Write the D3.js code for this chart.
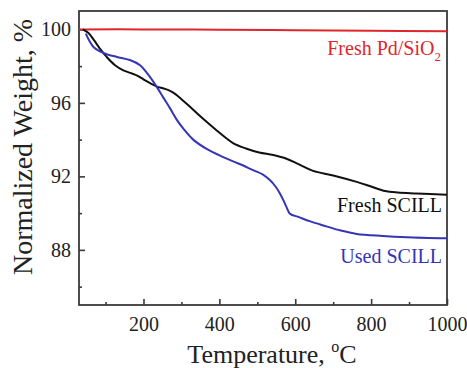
<!DOCTYPE html>
<html>
<head>
<meta charset="utf-8">
<script src="https://cdn.jsdelivr.net/npm/d3@7"></script>
<style>
  html, body { margin: 0; padding: 0; background: #fff; }
  svg text { font-family: "Liberation Serif", "Times New Roman", serif; }
</style>
</head>
<body>
<svg id="chart" width="467" height="368"></svg>
<script>
// Thermogravimetric curves: temperature (°C) vs normalized weight (%)
const pdTemp = [30, 200, 400, 600, 800, 1000];
const pdWeight = [100, 100, 99.98, 99.95, 99.92, 99.9];

const freshTemp = [40, 55, 70, 85, 103, 125, 147, 165, 182, 200, 215, 234, 255, 270, 285, 300, 322, 349, 370, 393, 415, 437, 470, 505, 542, 577, 610, 647, 700, 762, 800, 837, 870, 920, 1000];
const freshWeight = [100, 99.8, 99.4, 98.95, 98.5, 98.05, 97.77, 97.63, 97.5, 97.28, 97.1, 96.9, 96.77, 96.65, 96.46, 96.2, 95.8, 95.28, 94.9, 94.5, 94.13, 93.8, 93.52, 93.3, 93.16, 92.96, 92.65, 92.3, 92.05, 91.7, 91.45, 91.2, 91.12, 91.07, 91.0];

const usedTemp = [48, 58, 68, 85, 103, 130, 164, 191, 210, 234, 252, 270, 287, 305, 331, 370, 410, 450, 489, 515, 533, 548, 560, 570, 577, 586, 610, 640, 674, 720, 762, 830, 894, 1000];
const usedWeight = [99.77, 99.35, 99.04, 98.8, 98.65, 98.5, 98.33, 98.05, 97.6, 96.9, 96.3, 95.7, 95.1, 94.6, 94.0, 93.45, 93.05, 92.7, 92.34, 92.1, 91.8, 91.45, 91.06, 90.65, 90.33, 89.97, 89.78, 89.55, 89.33, 89.05, 88.87, 88.76, 88.69, 88.63];

const xMajorTicks = [200, 400, 600, 800, 1000];
const xMinorTicks = [100, 300, 500, 700, 900];
const yMajorTicks = [88, 92, 96, 100];
const yMinorTicks = [86, 90, 94, 98];

const seriesNames = ["Fresh Pd/SiO", "Fresh SCILL", "Used SCILL"];

const svg = d3.select("#chart");
const plotLeft = 79, plotRight = 447, plotTop = 11, plotBottom = 305;

const x = d3.scaleLinear().domain([30, 1000]).range([plotLeft, plotRight]);
const y = d3.scaleLinear().domain([85, 101]).range([plotBottom, plotTop]);

const axisColor = "#3a3a3a";

// minor ticks
svg.append("g")
  .attr("transform", `translate(0,${plotBottom})`)
  .call(d3.axisBottom(x).tickValues(xMinorTicks).tickSize(-3).tickFormat(""))
  .call(g => g.select(".domain").remove());
svg.append("g")
  .attr("transform", `translate(${plotLeft},0)`)
  .call(d3.axisLeft(y).tickValues(yMinorTicks).tickSize(-3).tickFormat(""))
  .call(g => g.select(".domain").remove());

// major ticks with labels
const xAxis = svg.append("g")
  .attr("transform", `translate(0,${plotBottom})`)
  .call(d3.axisBottom(x).tickValues(xMajorTicks).tickSize(-6).tickPadding(12).tickFormat(d3.format("d")));
xAxis.select(".domain").remove();

const yAxis = svg.append("g")
  .attr("transform", `translate(${plotLeft},0)`)
  .call(d3.axisLeft(y).tickValues(yMajorTicks).tickSize(-6).tickPadding(8).tickFormat(d3.format("d")));
yAxis.select(".domain").remove();

svg.selectAll(".tick line").attr("stroke", axisColor).attr("stroke-width", 1.6);
svg.selectAll(".tick text")
  .attr("font-family", "'Liberation Serif', 'Times New Roman', serif")
  .attr("font-size", 20)
  .attr("fill", "#222");

// plot frame
svg.append("rect")
  .attr("x", plotLeft).attr("y", plotTop)
  .attr("width", plotRight - plotLeft).attr("height", plotBottom - plotTop)
  .attr("fill", "none").attr("stroke", axisColor).attr("stroke-width", 1.8);

const line = d3.line().x(d => x(d[0])).y(d => y(d[1])).curve(d3.curveCatmullRom.alpha(0.5));

function drawSeries(temps, weights, color) {
  svg.append("path")
    .datum(temps.map((t, i) => [t, weights[i]]))
    .attr("d", line)
    .attr("fill", "none")
    .attr("stroke", color)
    .attr("stroke-width", 2)
    .attr("stroke-linejoin", "round");
}

drawSeries(pdTemp, pdWeight, "#e0262b");
drawSeries(freshTemp, freshWeight, "#111111");
drawSeries(usedTemp, usedWeight, "#3535b5");

// series labels
const pdLabel = svg.append("text")
  .attr("x", 441).attr("y", 55)
  .attr("text-anchor", "end")
  .attr("font-size", 20)
  .attr("fill", "#e0262b");
pdLabel.append("tspan").text(seriesNames[0]);
pdLabel.append("tspan").attr("font-size", 13).attr("dy", 6).text("2");

svg.append("text")
  .attr("x", 442).attr("y", 212)
  .attr("text-anchor", "end")
  .attr("font-size", 20)
  .attr("fill", "#111")
  .text(seriesNames[1]);

svg.append("text")
  .attr("x", 442).attr("y", 263)
  .attr("text-anchor", "end")
  .attr("font-size", 20)
  .attr("fill", "#3535b5")
  .text(seriesNames[2]);

// axis titles
const xTitle = svg.append("text")
  .attr("x", 272).attr("y", 363)
  .attr("text-anchor", "middle")
  .attr("font-size", 26)
  .attr("fill", "#222");
xTitle.append("tspan").text("Temperature, ");
xTitle.append("tspan").attr("font-size", 16).attr("dy", -11).text("o");
xTitle.append("tspan").attr("dy", 11).text("C");

svg.append("text")
  .attr("transform", "translate(32,147) rotate(-90)")
  .attr("text-anchor", "middle")
  .attr("font-size", 28)
  .attr("fill", "#222")
  .text("Normalized Weight, %");
</script>
</body>
</html>
